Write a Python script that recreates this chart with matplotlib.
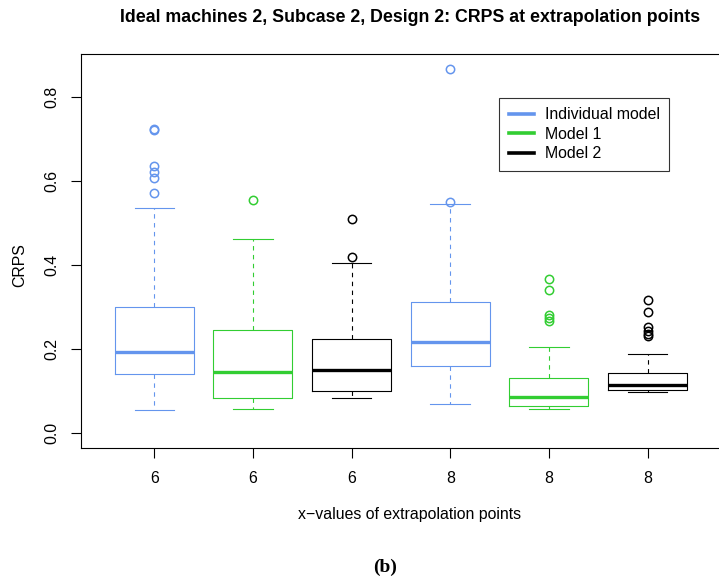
import matplotlib
matplotlib.use("Agg")
import matplotlib.pyplot as plt
from matplotlib.lines import Line2D

plt.rcParams['font.family'] = ['Liberation Sans', 'DejaVu Sans']

# CRPS box statistics
labels = ["6", "6", "6", "8", "8", "8"]
models = ["Individual model", "Model 1", "Model 2"]
colors = ["#6495ED", "#32CD32", "#000000"]
box_colors = ["#6495ED", "#32CD32", "#000000", "#6495ED", "#32CD32", "#000000"]

whislo = [0.055, 0.058, 0.083, 0.070, 0.058, 0.098]
q1 = [0.141, 0.084, 0.101, 0.159, 0.065, 0.103]
med = [0.194, 0.146, 0.149, 0.218, 0.085, 0.115]
q3 = [0.300, 0.246, 0.225, 0.313, 0.132, 0.143]
whishi = [0.536, 0.463, 0.405, 0.545, 0.204, 0.188]
fliers = [
    [0.724, 0.722, 0.637, 0.623, 0.607, 0.571],
    [0.555],
    [0.510, 0.420],
    [0.867, 0.551],
    [0.367, 0.341, 0.282, 0.268, 0.275],
    [0.317, 0.288, 0.252, 0.244, 0.236, 0.232],
]

W, H = 719, 579
fig = plt.figure(figsize=(W / 100, H / 100), dpi=100)
left, right, top, bottom = 81.3, 720.5, 54.3, 447.7
ax = fig.add_axes([left / W, 1 - bottom / H, (right - left) / W, (bottom - top) / H])

for i in range(len(labels)):
    c = box_colors[i]
    stats = [dict(whislo=whislo[i], q1=q1[i], med=med[i], q3=q3[i],
                  whishi=whishi[i], fliers=fliers[i])]
    ax.bxp(stats, positions=[i + 1], widths=0.8, capwidths=[0.4],
           showfliers=True,
           boxprops=dict(color=c, linewidth=0.8),
           medianprops=dict(color=c, linewidth=2.4, solid_capstyle='butt'),
           whiskerprops=dict(color=c, linewidth=0.8, linestyle=(0, (4, 4))),
           capprops=dict(color=c, linewidth=0.8),
           flierprops=dict(marker='o', markerfacecolor='none', markeredgecolor=c,
                           markersize=6, markeredgewidth=1.1))

ax.set_xlim(0.26, 6.74)
ax.set_ylim(-0.035, 0.9025)
ax.set_xticks(range(1, 7))
ax.set_xticklabels(labels)
ax.set_yticks([0.0, 0.2, 0.4, 0.6, 0.8])
ax.set_yticklabels(["0.0", "0.2", "0.4", "0.6", "0.8"], rotation=90, va='center')
ax.tick_params(axis='both', length=7, width=0.8, labelsize=11.4, pad=9)
ax.tick_params(axis='x', pad=9.5)
for s in ax.spines.values():
    s.set_linewidth(0.8)

handles = [Line2D([], [], color=c, linewidth=2.6) for c in colors]
leg = ax.legend(handles, models, loc='upper left',
                bbox_to_anchor=((499 - left) / (right - left), 1 - (97.7 - top) / (bottom - top)),
                fontsize=11.4, frameon=True, fancybox=False, edgecolor='black',
                handlelength=1.6, handletextpad=0.7, borderpad=0.6, labelspacing=0.28,
                borderaxespad=0)
leg.get_frame().set_linewidth(0.8)

fig.text(410 / W, 1 - 18 / H, "Ideal machines 2, Subcase 2, Design 2: CRPS at extrapolation points",
         ha='center', va='center', fontsize=12.8, fontweight='bold')
fig.text(410 / W, 1 - 515 / H, "x\u2212values of extrapolation points", ha='center', va='center', fontsize=11.4)
fig.text(20 / W, 1 - 265 / H, "CRPS", ha='center', va='center', rotation=90, fontsize=11.4)
fig.text(385 / W, 1 - 567 / H, "(b)", ha='center', va='center', fontsize=14, fontweight='bold',
         family=['Liberation Serif', 'DejaVu Serif'])

fig.savefig("out.png", dpi=100)
